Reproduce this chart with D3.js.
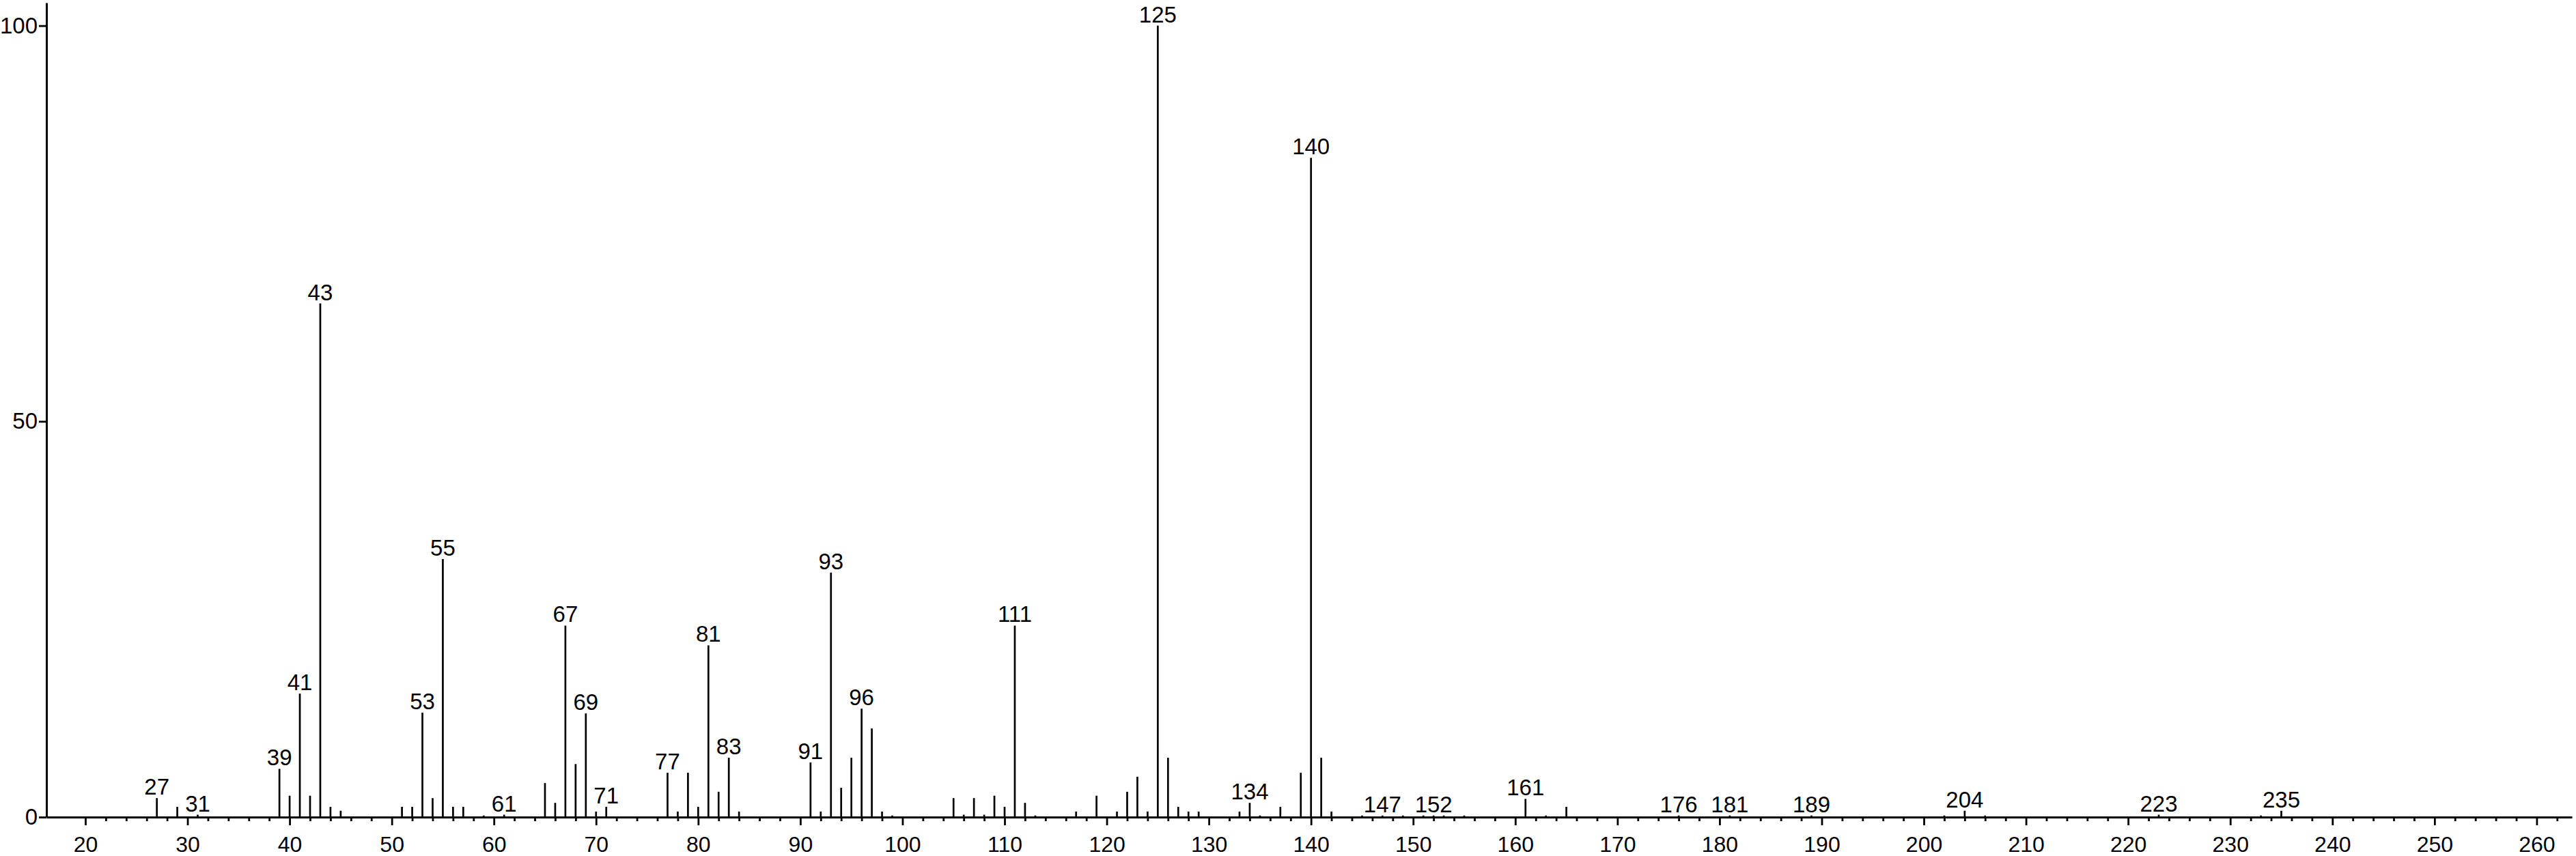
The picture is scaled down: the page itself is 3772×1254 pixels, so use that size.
<!DOCTYPE html>
<html>
<head>
<meta charset="utf-8">
<script src="https://cdn.jsdelivr.net/npm/d3@7"></script>
<style>
  body { margin: 0; background: #fff; }
  text { font-family: "Liberation Sans", Arial, Helvetica, sans-serif; }
</style>
</head>
<body>
<svg id="chart" width="3772" height="1254"></svg>
<script>
// Mass spectrum: m/z values and relative intensities (%)
const mz = [27, 29, 31, 39, 40, 41, 42, 43, 44, 45, 51, 52, 53, 54, 55, 56, 57, 59, 61,
  65, 66, 67, 68, 69, 70, 71, 77, 78, 79, 80, 81, 82, 83, 84, 91, 92, 93, 94, 95, 96, 97, 98, 99,
  105, 106, 107, 108, 109, 110, 111, 112, 113, 117, 119, 121, 122, 123, 124, 125, 126, 127, 128, 129,
  133, 134, 135, 137, 139, 140, 141, 142, 145, 147, 149, 151, 152, 153, 155, 161, 163, 165,
  176, 181, 189, 202, 204, 206, 223, 233, 235];
const intensity = [2.4, 1.3, 0.3, 6.1, 2.7, 15.6, 2.7, 64.9, 1.3, 0.8, 1.3, 1.3, 13.2, 2.4, 32.6, 1.3, 1.3, 0.2, 0.3,
  4.3, 1.8, 24.2, 6.7, 13.1, 0.7, 1.3, 5.6, 0.7, 5.6, 1.3, 21.7, 3.2, 7.5, 0.7, 6.9, 0.7, 30.9, 3.7, 7.5, 13.7, 11.2, 0.7, 0.2,
  2.4, 0.3, 2.4, 0.3, 2.7, 1.3, 24.2, 1.8, 0.2, 0.7, 2.7, 0.7, 3.2, 5.1, 0.7, 100, 7.5, 1.3, 0.7, 0.7,
  0.7, 1.8, 0.2, 1.3, 5.6, 83.3, 7.5, 0.7, 0.2, 0.2, 0.2, 0.2, 0.2, 0.2, 0.2, 2.3, 0.2, 1.3,
  0.2, 0.2, 0.2, 0.2, 0.8, 0.2, 0.3, 0.2, 0.8];
// peaks that carry an m/z label
const labeled = [27, 31, 39, 41, 43, 53, 55, 61, 67, 69, 71, 77, 81, 83, 91, 93, 96, 111,
  125, 134, 140, 147, 152, 161, 176, 181, 189, 204, 223, 235];

const xTicks = [20, 30, 40, 50, 60, 70, 80, 90, 100, 110, 120, 130, 140, 150, 160, 170, 180,
  190, 200, 210, 220, 230, 240, 250, 260];
const yTicks = [0, 50, 100];

const peaks = mz.map((m, i) => ({m: m, v: intensity[i]}));
const xMinor = d3.range(22, 263, 2).filter(d => d % 10 !== 0);

const svg = d3.select("#chart");

const x = d3.scaleLinear().domain([16.19, 263.45]).range([68, 3766]);
const y = d3.scaleLinear().domain([0, 102.9]).range([1197, 4]);

// peak sticks
svg.append("g")
  .selectAll("line")
  .data(peaks)
  .join("line")
  .attr("x1", d => x(d.m))
  .attr("x2", d => x(d.m))
  .attr("y1", y(0))
  .attr("y2", d => y(d.v))
  .attr("stroke", "#000")
  .attr("stroke-width", 2.7);

// peak labels
svg.append("g")
  .selectAll("text")
  .data(peaks.filter(d => labeled.includes(d.m)))
  .join("text")
  .attr("x", d => x(d.m))
  .attr("y", d => y(d.v) - 5)
  .attr("text-anchor", "middle")
  .attr("font-size", 33)
  .attr("fill", "#000")
  .text(d => d.m);

// minor x ticks
const minorAxis = svg.append("g")
  .attr("transform", "translate(0," + y(0) + ")")
  .call(d3.axisBottom(x).tickValues(xMinor).tickSize(6).tickFormat(""));
minorAxis.select(".domain").remove();
minorAxis.selectAll(".tick line").attr("stroke-width", 2.8);

// major x ticks + axis line
const xAxis = svg.append("g")
  .attr("transform", "translate(0," + y(0) + ")")
  .call(d3.axisBottom(x).tickValues(xTicks).tickSize(12).tickPadding(16).tickSizeOuter(0));
xAxis.select(".domain").attr("stroke-width", 3);
xAxis.selectAll(".tick line").attr("stroke-width", 2.8);
xAxis.selectAll(".tick text").attr("font-size", 32).attr("font-family", null);

// y axis
const yAxis = svg.append("g")
  .attr("transform", "translate(68,0)")
  .call(d3.axisLeft(y).tickValues(yTicks).tickSize(11).tickPadding(2).tickSizeOuter(0));
yAxis.select(".domain").attr("stroke-width", 3);
yAxis.selectAll(".tick line").attr("stroke-width", 2.8);
yAxis.selectAll(".tick text").attr("font-size", 33).attr("font-family", null);
</script>
</body>
</html>
